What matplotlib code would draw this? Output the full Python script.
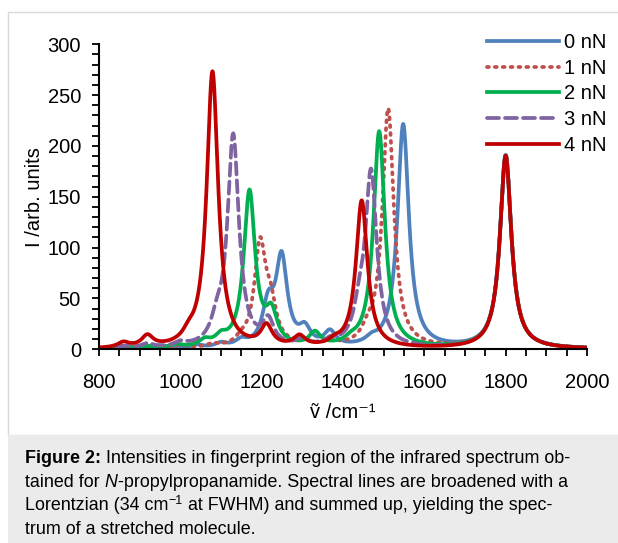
import numpy as np
import matplotlib
matplotlib.use("Agg")
import matplotlib.pyplot as plt
from matplotlib.patches import Rectangle
from matplotlib.ticker import MultipleLocator

plt.rcParams['font.family'] = ['Liberation Sans', 'DejaVu Sans']

# ---------------- data (stick spectra) ----------------
labels = ['0 nN', '1 nN', '2 nN', '3 nN', '4 nN']

centers_0nN = [860, 950, 1040, 1100, 1150, 1216, 1249, 1306, 1368, 1470, 1548, 1800]
heights_0nN = [2, 3, 3, 4, 6, 38, 86, 16, 14, 5, 220, 190]

centers_1nN = [860, 920, 1000, 1080, 1150, 1196, 1222, 1300, 1370, 1460, 1511, 1800]
heights_1nN = [2, 2, 3, 3, 5, 98, 35, 6, 5, 10, 235, 190]

centers_2nN = [860, 920, 990, 1060, 1100, 1170, 1224, 1331, 1420, 1489, 1800]
heights_2nN = [2, 2, 3, 6, 8, 153, 30, 13, 4, 213, 190]

centers_3nN = [860, 919, 1000, 1090, 1130, 1216, 1300, 1370, 1440, 1469, 1800]
heights_3nN = [2, 4, 4, 18, 208, 24, 6, 5, 25, 170, 190]

centers_4nN = [860, 919, 1020, 1079, 1212, 1293, 1380, 1446, 1800]
heights_4nN = [5, 11, 7, 272, 20, 10, 4, 145, 190]

fwhm = 34.0  # Lorentzian broadening stated in the caption

x_ticks = [800, 1000, 1200, 1400, 1600, 1800, 2000]
y_ticks = [0, 50, 100, 150, 200, 250, 300]

caption_lines = [
    [("Figure 2:", dict(weight='bold')),
     (" Intensities in fingerprint region of the infrared spectrum ob-", {})],
    [("tained for ", {}), ("N", dict(style='italic')),
     ("-propylpropanamide. Spectral lines are broadened with a", {})],
    [("Lorentzian (34 cm", {}), ("\u22121", dict(sup=True)),
     (" at FWHM) and summed up, yielding the spec-", {})],
    [("trum of a stretched molecule.", {})],
]

# ---------------- helpers ----------------
def broadened(grid, centers, heights, width):
    g = width / 2.0
    c = np.asarray(centers, float)[:, None]
    h = np.asarray(heights, float)[:, None]
    return (h / (1.0 + ((grid[None, :] - c) / g) ** 2)).sum(axis=0)

W, H = 618, 543
fig = plt.figure(figsize=(W / 100, H / 100), dpi=100)

# chart frame and caption box
fig.patches.append(Rectangle((8 / W, 108 / H), 1.2, 1 - 12 / H - 108 / H,
                             transform=fig.transFigure, fill=False,
                             edgecolor='#D9D9D9', lw=1.0, zorder=0))
fig.patches.append(Rectangle((8 / W, 0), 1.2, 108 / H, transform=fig.transFigure,
                             facecolor='#EBEBEB', edgecolor='none', zorder=0))

ax = fig.add_axes([99 / W, 1 - 349.3 / H, 488 / W, 305 / H])

grid = np.linspace(800, 2000, 2401)
series = [
    (centers_0nN, heights_0nN, dict(color='#4F81BD', ls='-')),
    (centers_1nN, heights_1nN, dict(color='#C0504D', ls=(0, (0.5, 1.6)), dash_capstyle='round')),
    (centers_2nN, heights_2nN, dict(color='#00B050', ls='-')),
    (centers_3nN, heights_3nN, dict(color='#8064A2', ls=(0, (3.2, 1.6)), dash_capstyle='round')),
    (centers_4nN, heights_4nN, dict(color='#C00000', ls='-')),
]
for (c, h, style), lab in zip(series, labels):
    ax.plot(grid, broadened(grid, c, h, fwhm), lw=2.7, label=lab, **style)

ax.set_xlim(800, 2000)
ax.set_ylim(0, 300)
ax.set_xticks(x_ticks)
ax.set_yticks(y_ticks)
ax.xaxis.set_minor_locator(MultipleLocator(50))
ax.yaxis.set_minor_locator(MultipleLocator(10))
for s in ['top', 'right']:
    ax.spines[s].set_visible(False)
for s in ['left', 'bottom']:
    ax.spines[s].set_linewidth(1.5)
    ax.spines[s].set_color('#000000')
ax.tick_params(which='both', direction='out', length=5, width=1.3, color='#000000')
ax.tick_params(axis='y', labelsize=14.5, pad=8)
ax.tick_params(axis='x', labelsize=14.5, pad=12)

ax.set_xlabel("\u1e7d /cm\u207b\u00b9", fontsize=14.5, labelpad=8)
ax.set_ylabel("I /arb. units", fontsize=14.5, labelpad=2.5)

leg = ax.legend(loc='upper right', bbox_to_anchor=(606 / W, 1 - 33 / H),
                bbox_transform=fig.transFigure, frameon=False, fontsize=14.5,
                handlelength=3.6, handletextpad=0.2, labelspacing=0.33,
                borderaxespad=0, borderpad=0)

# caption (rich text laid out segment by segment)
cap_size = 12.9
renderer = fig.canvas.get_renderer()

def text_w(s, size, kw):
    t = fig.text(0, 0, s, fontsize=size,
                 fontweight=kw.get('weight', 'normal'), fontstyle=kw.get('style', 'normal'))
    w = t.get_window_extent(renderer).width
    t.remove()
    return w

baselines = [463.3, 486.8, 510.3, 533.8]
for line, yb in zip(caption_lines, baselines):
    x = 25.0
    for s, kw in line:
        size = cap_size * 0.7 if kw.get('sup') else cap_size
        dy = 6.0 if kw.get('sup') else 0.0
        lead = len(s) - len(s.lstrip(' '))
        core = s.strip(' ')
        trail = len(s) - len(s.rstrip(' '))
        sp = text_w('x x', size, kw) - text_w('xx', size, kw)
        x += lead * sp
        t = fig.text(x / W, 1 - (yb - dy) / H, core, fontsize=size,
                     fontweight=kw.get('weight', 'normal'), fontstyle=kw.get('style', 'normal'),
                     va='baseline', ha='left', color='#000000')
        x += t.get_window_extent(renderer).width + trail * sp

fig.savefig('out.png', dpi=100)
